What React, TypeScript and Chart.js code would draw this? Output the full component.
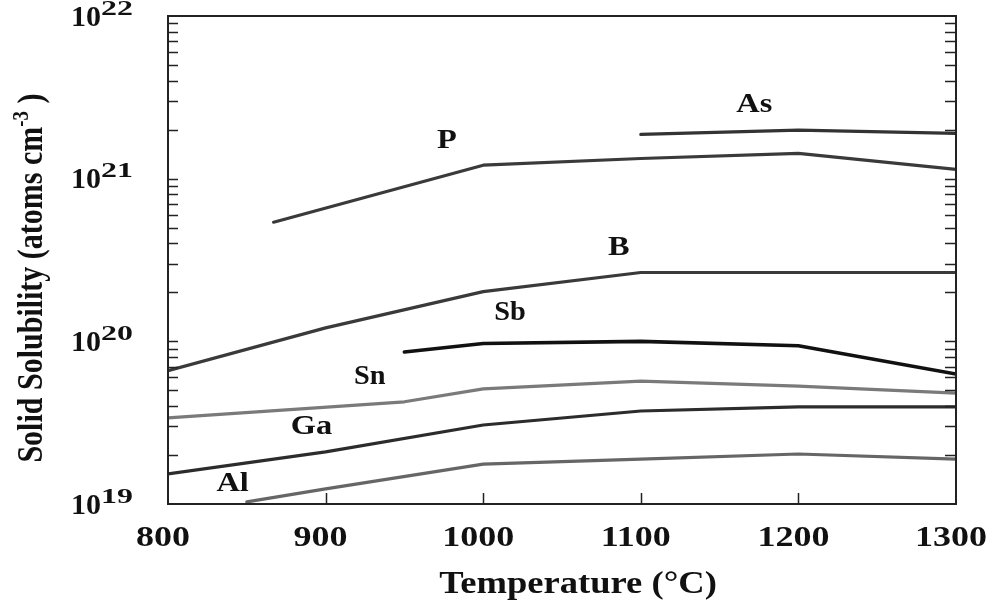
import React, { useEffect, useRef } from "react";
import { Chart, registerables } from "chart.js";

Chart.register(...registerables);

// ---- Data ----
const pTemps = [867, 1000, 1100, 1200, 1300];
const pValues = [5.4e20, 1.21e21, 1.33e21, 1.43e21, 1.14e21];

const asTemps = [1100, 1200, 1300];
const asValues = [1.87e21, 1.99e21, 1.9e21];

const bTemps = [800, 900, 1000, 1100, 1200, 1300];
const bValues = [6.6e19, 1.21e20, 2.02e20, 2.65e20, 2.65e20, 2.65e20];

const sbTemps = [950, 1000, 1100, 1200, 1300];
const sbValues = [8.6e19, 9.7e19, 1.0e20, 9.4e19, 6.3e19];

const snTemps = [800, 950, 1000, 1100, 1200, 1300];
const snValues = [3.38e19, 4.25e19, 5.1e19, 5.7e19, 5.3e19, 4.8e19];

const gaTemps = [800, 900, 1000, 1100, 1200, 1300];
const gaValues = [1.53e19, 2.09e19, 3.06e19, 3.73e19, 3.95e19, 3.95e19];

const alTemps = [850, 900, 1000, 1100, 1200, 1300];
const alValues = [1.03e19, 1.24e19, 1.76e19, 1.89e19, 2.03e19, 1.89e19];

// Series label names and their anchor positions (data coordinates)
const labelNames = ["P", "As", "B", "Sb", "Sn", "Ga", "Al"];
const labelTemps = [977, 1172, 1086, 1017, 928, 891, 841];
const labelValues = [1.71e21, 2.84e21, 3.75e20, 1.49e20, 6.04e19, 2.97e19, 1.33e19];
const labelStretch = [1.2, 1.2, 1.2, 1.05, 1.05, 1.2, 1.2];

// Axes
const xMin = 800;
const xMax = 1300;
const xTickValues = [800, 900, 1000, 1100, 1200, 1300];
const xTickLabels = ["800", "900", "1000", "1100", "1200", "1300"];
const yDecadeExponents = [19, 20, 21, 22];
const yDecadeLabels = ["19", "20", "21", "22"];
const yMinorMantissas = [2, 3, 4, 5, 6, 7, 8, 9];

const xTitle = "Temperature (°C)";
const yTitleMain = "Solid Solubility (atoms cm";
const yTitleSup = "-3";
const yTitleEnd = " )";

const SERIF = '"Liberation Serif", "DejaVu Serif", serif';
const INK = "#111111";

function pairs(xs: number[], ys: number[]) {
  return xs.map((x, i) => ({ x, y: ys[i] }));
}

function drawStretched(
  ctx: CanvasRenderingContext2D,
  text: string,
  x: number,
  y: number,
  font: string,
  sx: number,
  align: CanvasTextAlign
) {
  ctx.save();
  ctx.translate(x, y);
  ctx.scale(sx, 1);
  ctx.font = font;
  ctx.textAlign = align;
  ctx.textBaseline = "middle";
  ctx.fillStyle = INK;
  ctx.fillText(text, 0, 0);
  ctx.restore();
}

const decorPlugin = {
  id: "decor",
  afterDatasetsDraw(chart: any) {
    const ctx: CanvasRenderingContext2D = chart.ctx;
    const { left, right, top, bottom } = chart.chartArea;
    const xs = chart.scales.x;
    const ys = chart.scales.y;

    ctx.save();
    // frame
    ctx.strokeStyle = "#222";
    ctx.lineWidth = 2;
    ctx.strokeRect(left, top, right - left, bottom - top);

    // y minor / major ticks (inward, both sides)
    ctx.lineWidth = 1.5;
    ctx.beginPath();
    yDecadeExponents.forEach((e, idx) => {
      const vals: number[] = [Math.pow(10, e)];
      if (idx < yDecadeExponents.length - 1) {
        yMinorMantissas.forEach((m) => vals.push(m * Math.pow(10, e)));
      }
      vals.forEach((v) => {
        const py = Math.round(ys.getPixelForValue(v)) + 0.5;
        if (py <= top + 1 || py >= bottom - 1) return;
        ctx.moveTo(left, py);
        ctx.lineTo(left + 10, py);
        ctx.moveTo(right, py);
        ctx.lineTo(right - 11, py);
      });
    });
    // x ticks (inward from bottom)
    xTickValues.forEach((v) => {
      const px = Math.round(xs.getPixelForValue(v)) + 0.5;
      if (px <= left + 1 || px >= right - 1) return;
      ctx.moveTo(px, bottom);
      ctx.lineTo(px, bottom - 11);
    });
    ctx.stroke();

    // x tick labels
    xTickValues.forEach((v, i) => {
      const px = xs.getPixelForValue(v);
      drawStretched(ctx, xTickLabels[i], px - 5, bottom + 34, `bold 30px ${SERIF}`, 1.2, "center");
    });

    // y tick labels: 10^n
    yDecadeExponents.forEach((e, i) => {
      const py = ys.getPixelForValue(Math.pow(10, e));
      drawStretched(ctx, "10", left - 67, py + 2, `bold 30px ${SERIF}`, 1.0, "right");
      drawStretched(ctx, yDecadeLabels[i], left - 67, py - 7, `bold 22px ${SERIF}`, 1.45, "left");
    });

    // x axis title
    drawStretched(ctx, xTitle, (left + right) / 2 + 16, bottom + 81, `bold 31px ${SERIF}`, 1.18, "center");

    // y axis title (rotated)
    ctx.save();
    const cy = (top + bottom) / 2 + 18;
    ctx.translate(30, cy);
    ctx.scale(1.2, 1);
    ctx.rotate(-Math.PI / 2);
    ctx.fillStyle = INK;
    ctx.textAlign = "left";
    ctx.textBaseline = "alphabetic";
    const mainFont = `bold 30px ${SERIF}`;
    const supFont = `bold 19px ${SERIF}`;
    ctx.font = mainFont;
    const w1 = ctx.measureText(yTitleMain).width;
    const w3 = ctx.measureText(yTitleEnd).width;
    ctx.font = supFont;
    const w2 = ctx.measureText(yTitleSup).width;
    const total = w1 + w2 + w3;
    let cx = -total / 2;
    const base = 10;
    ctx.font = mainFont;
    ctx.fillText(yTitleMain, cx, base);
    cx += w1;
    ctx.font = supFont;
    ctx.fillText(yTitleSup, cx, base - 12);
    cx += w2;
    ctx.font = mainFont;
    ctx.fillText(yTitleEnd, cx, base);
    ctx.restore();

    // series labels
    labelNames.forEach((name, i) => {
      const px = xs.getPixelForValue(labelTemps[i]);
      const py = ys.getPixelForValue(labelValues[i]);
      drawStretched(ctx, name, px, py, `bold 27px ${SERIF}`, labelStretch[i], "center");
    });

    ctx.restore();
  },
};

export default function App() {
  const canvasRef = useRef<HTMLCanvasElement | null>(null);

  useEffect(() => {
    if (!canvasRef.current) return;
    const mk = (label: string, xs: number[], ys: number[], color: string, width = 3.2) => ({
      label,
      data: pairs(xs, ys),
      borderColor: color,
      backgroundColor: color,
      borderWidth: width,
      pointRadius: 0,
      tension: 0,
      fill: false,
      borderCapStyle: "round" as const,
      borderJoinStyle: "round" as const,
    });

    const chart = new Chart(canvasRef.current, {
      type: "line",
      data: {
        datasets: [
          mk("P", pTemps, pValues, "#3a3a3a"),
          mk("As", asTemps, asValues, "#333333"),
          mk("B", bTemps, bValues, "#3a3a3a"),
          mk("Sb", sbTemps, sbValues, "#111111", 3.6),
          mk("Sn", snTemps, snValues, "#7a7a7a"),
          mk("Ga", gaTemps, gaValues, "#2c2c2c"),
          mk("Al", alTemps, alValues, "#666666"),
        ],
      },
      options: {
        responsive: false,
        animation: false,
        devicePixelRatio: 1,
        layout: { padding: { left: 168, right: 31, top: 16, bottom: 100 } },
        plugins: { legend: { display: false }, tooltip: { enabled: false } },
        scales: {
          x: { type: "linear", min: xMin, max: xMax, display: false },
          y: { type: "logarithmic", min: 1e19, max: 1e22, display: false },
        },
      },
      plugins: [decorPlugin],
    });
    return () => chart.destroy();
  }, []);

  return (
    <div style={{ position: "fixed", left: 0, top: 0, width: 987, height: 604, background: "#fff" }}>
      <canvas ref={canvasRef} width={987} height={604} style={{ display: "block" }} />
    </div>
  );
}
